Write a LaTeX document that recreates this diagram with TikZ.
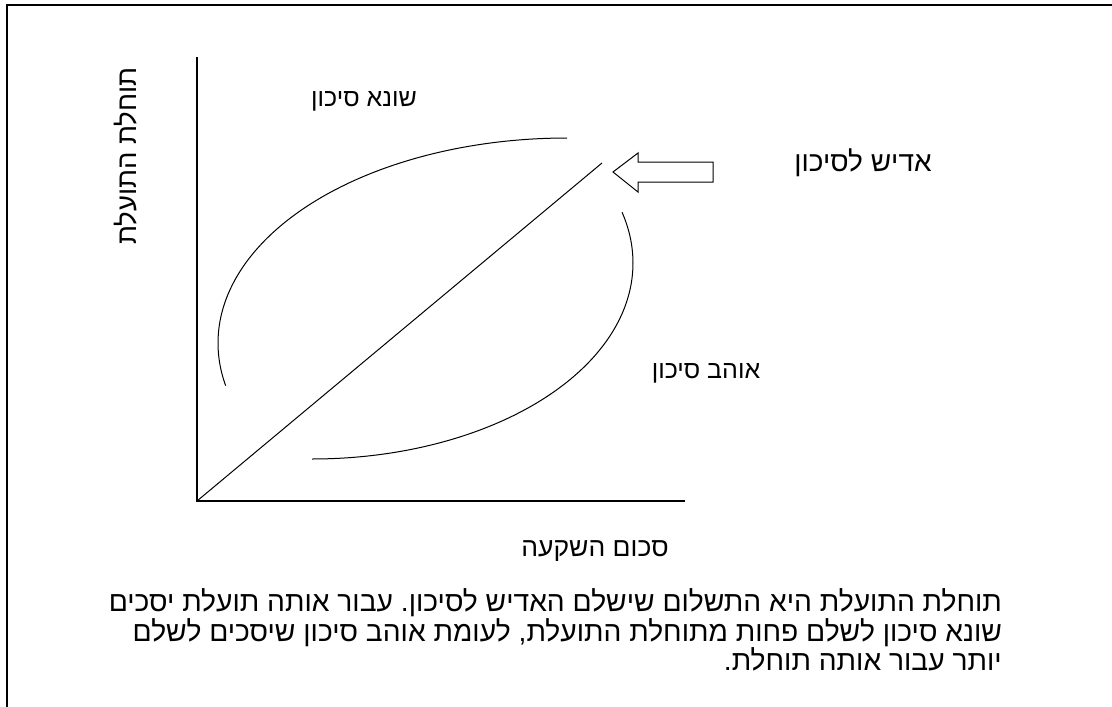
\documentclass[tikz,border=0pt]{standalone}
\usepackage{fontspec}
\TeXXeTstate=1
\frenchspacing
\newfontfamily\hebfont[Script=Hebrew]{Liberation Sans}
\begin{document}
\begin{tikzpicture}[x=1pt,y=-1pt,
  lbl/.style={font=\hebfont\fontsize{25}{28}\selectfont, inner sep=0pt},
  para/.style={font=\hebfont\fontsize{28.2}{24.5}\selectfont, inner sep=0pt, align=right},
  axis/.style={line width=1.5pt},
  curve/.style={line width=1pt},
  frame/.style={line width=1.3pt}]
\useasboundingbox (0,0) rectangle (1112,707);
% frame (clipped at right and bottom)
\draw[frame] (7,5) rectangle (1130,725);
% axes
\coordinate (O) at (197,501);
\coordinate (ytop) at (197,57);
\coordinate (xend) at (685,501);
\coordinate (dend) at (602,163);
\draw[axis] (ytop) -- (O) -- (xend);
\draw[curve] (O) -- (dend);
% curves
\draw[curve] plot[domain=90:192, samples=120, smooth] ({567+349*cos(\x)}, {343-205*sin(\x)});
\draw[curve] plot[domain=-90:15, samples=120, smooth] ({312+321*cos(\x)}, {263-196*sin(\x)});
% block arrow
\draw[line width=1pt, line join=miter] (613,172) -- (638,153) -- (638,162) -- (713,162) -- (713,182) -- (638,182) -- (638,192) -- cycle;
% labels
\node[lbl] (hate) at (364,101) {\beginR שונא סיכון\endR};
\node[lbl, font=\hebfont\fontsize{28}{30}\selectfont] (indiff) at (863,163) {\beginR אדיש לסיכון\endR};
\node[lbl] (love) at (706,373) {\beginR אוהב סיכון\endR};
\node[lbl, font=\hebfont\fontsize{26.5}{30}\selectfont] (xlab) at (595,551) {\beginR סכום השקעה\endR};
\node[lbl, rotate=90, font=\hebfont\fontsize{27.5}{30}\selectfont] (ylab) at (126,156) {\beginR תוחלת התועלת\endR};
\node[para, anchor=east] (txt) at (1002,630) {\beginR תוחלת התועלת היא התשלום שישלם האדיש לסיכון. עבור אותה תועלת יסכים\endR\\
\beginR שונא סיכון לשלם פחות מתוחלת התועלת, לעומת אוהב סיכון שיסכים לשלם\endR\\
\beginR יותר עבור אותה תוחלת.\endR};
\end{tikzpicture}
\end{document}
